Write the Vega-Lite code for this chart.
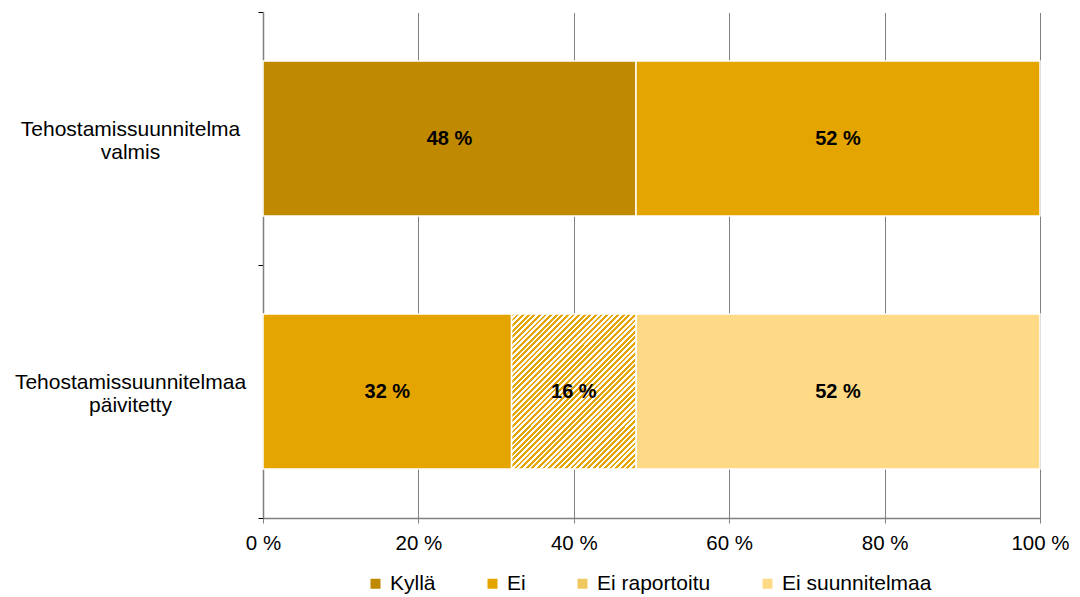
{
  "$schema": "https://vega.github.io/schema/vega-lite/v6.json",
  "width": 777,
  "height": 506,
  "autosize": {"type": "none"},
  "padding": {"left": 263, "top": 12, "right": 40, "bottom": 79},
  "background": "#ffffff",
  "config": {
    "view": {"stroke": null},
    "font": "Liberation Sans",
    "axis": {"labelFont": "Liberation Sans", "labelColor": "#000000"},
    "legend": {"labelFont": "Liberation Sans", "labelColor": "#000000"}
  },
  "data": {
    "values": [
      {"kysymys": "Tehostamissuunnitelma valmis", "vastaus": "Kyllä", "osuus": 48, "jarj": 1},
      {"kysymys": "Tehostamissuunnitelma valmis", "vastaus": "Ei", "osuus": 52, "jarj": 2},
      {"kysymys": "Tehostamissuunnitelmaa päivitetty", "vastaus": "Ei", "osuus": 32, "jarj": 2},
      {"kysymys": "Tehostamissuunnitelmaa päivitetty", "vastaus": "Ei raportoitu", "osuus": 16, "jarj": 3},
      {"kysymys": "Tehostamissuunnitelmaa päivitetty", "vastaus": "Ei suunnitelmaa", "osuus": 52, "jarj": 4}
    ]
  },
  "transform": [
    {"stack": "osuus", "groupby": ["kysymys"], "sort": [{"field": "jarj"}], "as": ["alku", "loppu"]},
    {"calculate": "(datum.alku + datum.loppu) / 2", "as": "keski"},
    {"calculate": "datum.osuus + ' %'", "as": "teksti"}
  ],
  "encoding": {
    "y": {
      "field": "kysymys",
      "type": "nominal",
      "sort": ["Tehostamissuunnitelma valmis", "Tehostamissuunnitelmaa päivitetty"],
      "scale": {"paddingInner": 0, "paddingOuter": 0},
      "axis": {
        "title": null,
        "labelExpr": "split(datum.label, ' ')",
        "labelAlign": "center",
        "labelBaseline": "middle",
        "labelPadding": 128,
        "labelOffset": -9,
        "labelLimit": 400,
        "labelFontSize": 21,
        "labelLineHeight": 23,
        "tickSize": 5,
        "tickColor": "#000000",
        "tickBand": "extent",
        "domainColor": "#808080",
        "domainWidth": 1.5
      }
    }
  },
  "layer": [
    {
      "mark": {"type": "bar", "stroke": "#ffffff", "strokeWidth": 1.5, "height": {"band": 0.613}},
      "encoding": {
        "x": {
          "field": "alku",
          "type": "quantitative",
          "scale": {"domain": [0, 100], "nice": false},
          "axis": {
            "title": null,
            "values": [0, 20, 40, 60, 80, 100],
            "labelExpr": "datum.value + ' %'",
            "labelFontSize": 20.5,
            "labelPadding": 10,
            "labelFlush": false,
            "grid": true,
            "gridColor": "#000000",
            "gridDash": [1, 1],
            "domainColor": "#808080",
            "domainWidth": 1.5,
            "tickColor": "#808080",
            "tickSize": 5
          }
        },
        "x2": {"field": "loppu"},
        "color": {
          "field": "vastaus",
          "type": "nominal",
          "scale": {
            "domain": ["Kyllä", "Ei", "Ei raportoitu", "Ei suunnitelmaa"],
            "range": ["#bf8900", "#e5a500", "#f0c860", "#ffda86"]
          },
          "legend": {
            "title": null,
            "orient": "none",
            "legendX": 102,
            "legendY": 561,
            "direction": "horizontal",
            "columns": 4,
            "symbolType": "square",
            "symbolSize": 100,
            "symbolStrokeWidth": 0,
            "labelFontSize": 21,
            "labelOffset": 4,
            "columnPadding": 46
          }
        }
      }
    },
    {
      "transform": [{"filter": "datum.vastaus === 'Ei raportoitu'"}],
      "mark": {
        "type": "bar",
        "stroke": "#ffffff",
        "strokeWidth": 1.5,
        "height": {"band": 0.613},
        "fill": {
          "gradient": "linear",
          "x1": 0, "y1": 0, "x2": 0.88, "y2": 1.097,
          "stops": [
            {"offset": 0, "color": "#e5a500"},
            {"offset": 0.01, "color": "#e5a500"}, {"offset": 0.01, "color": "#ffffff"},
            {"offset": 0.02, "color": "#ffffff"}, {"offset": 0.02, "color": "#e5a500"},
            {"offset": 0.03, "color": "#e5a500"}, {"offset": 0.03, "color": "#ffffff"},
            {"offset": 0.04, "color": "#ffffff"}, {"offset": 0.04, "color": "#e5a500"},
            {"offset": 0.05, "color": "#e5a500"}, {"offset": 0.05, "color": "#ffffff"},
            {"offset": 0.06, "color": "#ffffff"}, {"offset": 0.06, "color": "#e5a500"},
            {"offset": 0.07, "color": "#e5a500"}, {"offset": 0.07, "color": "#ffffff"},
            {"offset": 0.08, "color": "#ffffff"}, {"offset": 0.08, "color": "#e5a500"},
            {"offset": 0.09, "color": "#e5a500"}, {"offset": 0.09, "color": "#ffffff"},
            {"offset": 0.10, "color": "#ffffff"}, {"offset": 0.10, "color": "#e5a500"},
            {"offset": 0.11, "color": "#e5a500"}, {"offset": 0.11, "color": "#ffffff"},
            {"offset": 0.12, "color": "#ffffff"}, {"offset": 0.12, "color": "#e5a500"},
            {"offset": 0.13, "color": "#e5a500"}, {"offset": 0.13, "color": "#ffffff"},
            {"offset": 0.14, "color": "#ffffff"}, {"offset": 0.14, "color": "#e5a500"},
            {"offset": 0.15, "color": "#e5a500"}, {"offset": 0.15, "color": "#ffffff"},
            {"offset": 0.16, "color": "#ffffff"}, {"offset": 0.16, "color": "#e5a500"},
            {"offset": 0.17, "color": "#e5a500"}, {"offset": 0.17, "color": "#ffffff"},
            {"offset": 0.18, "color": "#ffffff"}, {"offset": 0.18, "color": "#e5a500"},
            {"offset": 0.19, "color": "#e5a500"}, {"offset": 0.19, "color": "#ffffff"},
            {"offset": 0.20, "color": "#ffffff"}, {"offset": 0.20, "color": "#e5a500"},
            {"offset": 0.21, "color": "#e5a500"}, {"offset": 0.21, "color": "#ffffff"},
            {"offset": 0.22, "color": "#ffffff"}, {"offset": 0.22, "color": "#e5a500"},
            {"offset": 0.23, "color": "#e5a500"}, {"offset": 0.23, "color": "#ffffff"},
            {"offset": 0.24, "color": "#ffffff"}, {"offset": 0.24, "color": "#e5a500"},
            {"offset": 0.25, "color": "#e5a500"}, {"offset": 0.25, "color": "#ffffff"},
            {"offset": 0.26, "color": "#ffffff"}, {"offset": 0.26, "color": "#e5a500"},
            {"offset": 0.27, "color": "#e5a500"}, {"offset": 0.27, "color": "#ffffff"},
            {"offset": 0.28, "color": "#ffffff"}, {"offset": 0.28, "color": "#e5a500"},
            {"offset": 0.29, "color": "#e5a500"}, {"offset": 0.29, "color": "#ffffff"},
            {"offset": 0.30, "color": "#ffffff"}, {"offset": 0.30, "color": "#e5a500"},
            {"offset": 0.31, "color": "#e5a500"}, {"offset": 0.31, "color": "#ffffff"},
            {"offset": 0.32, "color": "#ffffff"}, {"offset": 0.32, "color": "#e5a500"},
            {"offset": 0.33, "color": "#e5a500"}, {"offset": 0.33, "color": "#ffffff"},
            {"offset": 0.34, "color": "#ffffff"}, {"offset": 0.34, "color": "#e5a500"},
            {"offset": 0.35, "color": "#e5a500"}, {"offset": 0.35, "color": "#ffffff"},
            {"offset": 0.36, "color": "#ffffff"}, {"offset": 0.36, "color": "#e5a500"},
            {"offset": 0.37, "color": "#e5a500"}, {"offset": 0.37, "color": "#ffffff"},
            {"offset": 0.38, "color": "#ffffff"}, {"offset": 0.38, "color": "#e5a500"},
            {"offset": 0.39, "color": "#e5a500"}, {"offset": 0.39, "color": "#ffffff"},
            {"offset": 0.40, "color": "#ffffff"}, {"offset": 0.40, "color": "#e5a500"},
            {"offset": 0.41, "color": "#e5a500"}, {"offset": 0.41, "color": "#ffffff"},
            {"offset": 0.42, "color": "#ffffff"}, {"offset": 0.42, "color": "#e5a500"},
            {"offset": 0.43, "color": "#e5a500"}, {"offset": 0.43, "color": "#ffffff"},
            {"offset": 0.44, "color": "#ffffff"}, {"offset": 0.44, "color": "#e5a500"},
            {"offset": 0.45, "color": "#e5a500"}, {"offset": 0.45, "color": "#ffffff"},
            {"offset": 0.46, "color": "#ffffff"}, {"offset": 0.46, "color": "#e5a500"},
            {"offset": 0.47, "color": "#e5a500"}, {"offset": 0.47, "color": "#ffffff"},
            {"offset": 0.48, "color": "#ffffff"}, {"offset": 0.48, "color": "#e5a500"},
            {"offset": 0.49, "color": "#e5a500"}, {"offset": 0.49, "color": "#ffffff"},
            {"offset": 0.50, "color": "#ffffff"}, {"offset": 0.50, "color": "#e5a500"},
            {"offset": 0.51, "color": "#e5a500"}, {"offset": 0.51, "color": "#ffffff"},
            {"offset": 0.52, "color": "#ffffff"}, {"offset": 0.52, "color": "#e5a500"},
            {"offset": 0.53, "color": "#e5a500"}, {"offset": 0.53, "color": "#ffffff"},
            {"offset": 0.54, "color": "#ffffff"}, {"offset": 0.54, "color": "#e5a500"},
            {"offset": 0.55, "color": "#e5a500"}, {"offset": 0.55, "color": "#ffffff"},
            {"offset": 0.56, "color": "#ffffff"}, {"offset": 0.56, "color": "#e5a500"},
            {"offset": 0.57, "color": "#e5a500"}, {"offset": 0.57, "color": "#ffffff"},
            {"offset": 0.58, "color": "#ffffff"}, {"offset": 0.58, "color": "#e5a500"},
            {"offset": 0.59, "color": "#e5a500"}, {"offset": 0.59, "color": "#ffffff"},
            {"offset": 0.60, "color": "#ffffff"}, {"offset": 0.60, "color": "#e5a500"},
            {"offset": 0.61, "color": "#e5a500"}, {"offset": 0.61, "color": "#ffffff"},
            {"offset": 0.62, "color": "#ffffff"}, {"offset": 0.62, "color": "#e5a500"},
            {"offset": 0.63, "color": "#e5a500"}, {"offset": 0.63, "color": "#ffffff"},
            {"offset": 0.64, "color": "#ffffff"}, {"offset": 0.64, "color": "#e5a500"},
            {"offset": 0.65, "color": "#e5a500"}, {"offset": 0.65, "color": "#ffffff"},
            {"offset": 0.66, "color": "#ffffff"}, {"offset": 0.66, "color": "#e5a500"},
            {"offset": 0.67, "color": "#e5a500"}, {"offset": 0.67, "color": "#ffffff"},
            {"offset": 0.68, "color": "#ffffff"}, {"offset": 0.68, "color": "#e5a500"},
            {"offset": 0.69, "color": "#e5a500"}, {"offset": 0.69, "color": "#ffffff"},
            {"offset": 0.70, "color": "#ffffff"}, {"offset": 0.70, "color": "#e5a500"},
            {"offset": 0.71, "color": "#e5a500"}, {"offset": 0.71, "color": "#ffffff"},
            {"offset": 0.72, "color": "#ffffff"}, {"offset": 0.72, "color": "#e5a500"},
            {"offset": 0.73, "color": "#e5a500"}, {"offset": 0.73, "color": "#ffffff"},
            {"offset": 0.74, "color": "#ffffff"}, {"offset": 0.74, "color": "#e5a500"},
            {"offset": 0.75, "color": "#e5a500"}, {"offset": 0.75, "color": "#ffffff"},
            {"offset": 0.76, "color": "#ffffff"}, {"offset": 0.76, "color": "#e5a500"},
            {"offset": 0.77, "color": "#e5a500"}, {"offset": 0.77, "color": "#ffffff"},
            {"offset": 0.78, "color": "#ffffff"}, {"offset": 0.78, "color": "#e5a500"},
            {"offset": 0.79, "color": "#e5a500"}, {"offset": 0.79, "color": "#ffffff"},
            {"offset": 0.80, "color": "#ffffff"}, {"offset": 0.80, "color": "#e5a500"},
            {"offset": 0.81, "color": "#e5a500"}, {"offset": 0.81, "color": "#ffffff"},
            {"offset": 0.82, "color": "#ffffff"}, {"offset": 0.82, "color": "#e5a500"},
            {"offset": 0.83, "color": "#e5a500"}, {"offset": 0.83, "color": "#ffffff"},
            {"offset": 0.84, "color": "#ffffff"}, {"offset": 0.84, "color": "#e5a500"},
            {"offset": 0.85, "color": "#e5a500"}, {"offset": 0.85, "color": "#ffffff"},
            {"offset": 0.86, "color": "#ffffff"}, {"offset": 0.86, "color": "#e5a500"},
            {"offset": 0.87, "color": "#e5a500"}, {"offset": 0.87, "color": "#ffffff"},
            {"offset": 0.88, "color": "#ffffff"}, {"offset": 0.88, "color": "#e5a500"},
            {"offset": 0.89, "color": "#e5a500"}, {"offset": 0.89, "color": "#ffffff"},
            {"offset": 0.90, "color": "#ffffff"}, {"offset": 0.90, "color": "#e5a500"},
            {"offset": 0.91, "color": "#e5a500"}, {"offset": 0.91, "color": "#ffffff"},
            {"offset": 0.92, "color": "#ffffff"}, {"offset": 0.92, "color": "#e5a500"},
            {"offset": 0.93, "color": "#e5a500"}, {"offset": 0.93, "color": "#ffffff"},
            {"offset": 0.94, "color": "#ffffff"}, {"offset": 0.94, "color": "#e5a500"},
            {"offset": 0.95, "color": "#e5a500"}, {"offset": 0.95, "color": "#ffffff"},
            {"offset": 0.96, "color": "#ffffff"}, {"offset": 0.96, "color": "#e5a500"},
            {"offset": 0.97, "color": "#e5a500"}, {"offset": 0.97, "color": "#ffffff"},
            {"offset": 0.98, "color": "#ffffff"}, {"offset": 0.98, "color": "#e5a500"},
            {"offset": 0.99, "color": "#e5a500"}, {"offset": 0.99, "color": "#ffffff"},
            {"offset": 1, "color": "#ffffff"}
          ]
        }
      },
      "encoding": {
        "x": {"field": "alku", "type": "quantitative"},
        "x2": {"field": "loppu"}
      }
    },
    {
      "mark": {"type": "text", "fontSize": 20, "fontWeight": "bold", "color": "#000000", "font": "Liberation Sans"},
      "encoding": {
        "x": {"field": "keski", "type": "quantitative"},
        "text": {"field": "teksti", "type": "nominal"}
      }
    }
  ]
}
